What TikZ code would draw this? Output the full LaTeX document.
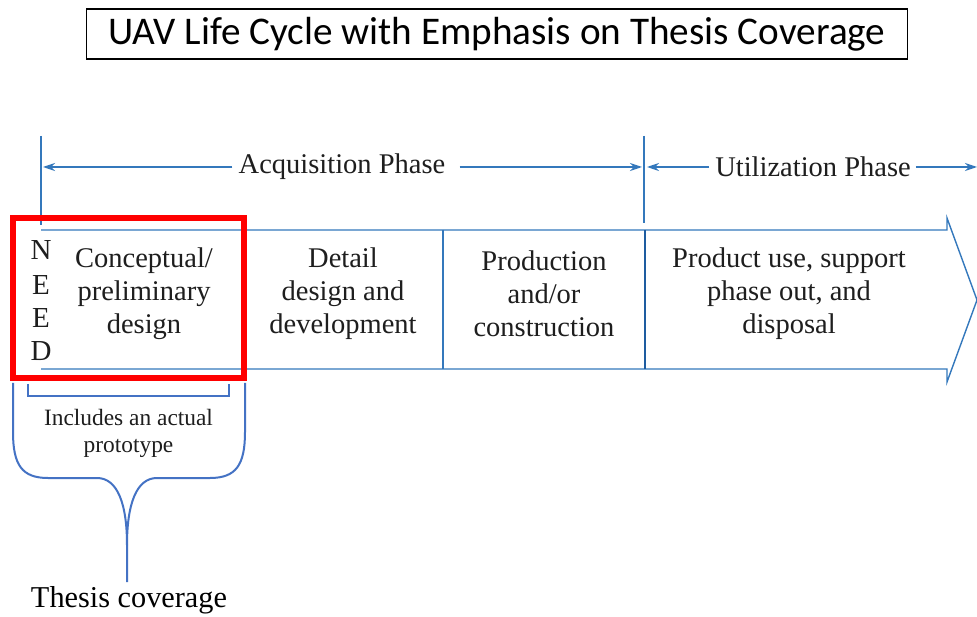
\documentclass[tikz,border=0pt]{standalone}
\usepackage{fontspec}
\setmainfont{Liberation Serif}
\newfontfamily\titlefont{Carlito}
\usetikzlibrary{arrows.meta}
\definecolor{lineblue}{RGB}{52,120,188}
\definecolor{darkblue}{RGB}{30,92,160}
\definecolor{braceblue}{RGB}{68,114,196}
\definecolor{txt}{RGB}{30,30,30}
\definecolor{redbox}{RGB}{255,0,0}
\tikzset{
  blueline/.style={draw=lineblue,line width=1.4pt},
  phasearrow/.style={blueline,-{Stealth[length=12pt,width=8pt]}},
  boxtext/.style={text=txt,align=center,font=\fontsize{28.5}{33}\selectfont,inner sep=0pt},
  needletter/.style={text=txt,font=\fontsize{29}{33}\selectfont,inner sep=0pt},
  phasetext/.style={text=txt,font=\fontsize{28.5}{33}\selectfont,inner sep=0pt},
  bracestyle/.style={draw=braceblue,line width=2pt},
}
\begin{document}
\begin{tikzpicture}[x=1pt,y=-1pt]
\useasboundingbox (0,0) rectangle (977,617);
\fill[white] (0,0) rectangle (977,617);
% title
\node[draw=black,line width=1.3pt,minimum width=821pt,minimum height=50pt,inner sep=0pt,
  font=\titlefont\fontsize{39.2}{44}\selectfont] (title) at (497,34) {UAV Life Cycle with Emphasis on Thesis Coverage};
% phase markers
\coordinate (vl1t) at (41,136); \coordinate (vl1b) at (41,225);
\coordinate (vl2t) at (644,136); \coordinate (vl2b) at (644,223);
\draw[blueline] (vl1t) -- (vl1b);
\draw[blueline] (vl2t) -- (vl2b);
\node[phasetext] (acq) at (342,167) {Acquisition Phase};
\node[phasetext] (util) at (813,167) {Utilization Phase};
\coordinate (a1) at (43,167); \coordinate (a2) at (642,167);
\coordinate (u1) at (647,167); \coordinate (u2) at (977,167);
\draw[phasearrow] ([xshift=-6pt]acq.west) -- (a1);
\draw[phasearrow] ([xshift=14pt]acq.east) -- (a2);
\draw[phasearrow] ([xshift=-6pt]util.west) -- (u1);
\draw[phasearrow] ([xshift=5pt]util.east) -- (u2);
% big arrow
\begin{scope}
\clip (0,0) rectangle (977,617);
\draw[blueline,line join=miter] (41,230) -- (947,230) -- (947,218) -- (977,300) -- (947,382) -- (947,369) -- (41,369);
\end{scope}
\draw[draw=lineblue,line width=1.2pt] (443,230) -- (443,369);
\draw[draw=darkblue,line width=2.6pt] (645,230) -- (645,369);
% texts
\node[needletter] (n1) at (41,250) {N};
\node[needletter] (n2) at (41,285) {E};
\node[needletter] (n3) at (41,318) {E};
\node[needletter] (n4) at (41,351) {D};
\node[boxtext] (concept) at (144,294) {Conceptual/\\preliminary\\design};
\node[boxtext] (detail) at (343,294) {Detail\\design and\\development};
\node[boxtext] (prod) at (544,294) {Production\\and/or\\construction};
\node[boxtext] (use) at (789,294) {Product use, support\\phase out, and\\disposal};
% red highlight
\draw[draw=redbox,line width=6pt] (13,218) rectangle (244,378);
% small bracket
\draw[draw=braceblue,line width=1.2pt] (28,384) -- (28,396) -- (229,396) -- (229,384);
\node[text=txt,align=center,font=\fontsize{23.4}{27}\selectfont,inner sep=0pt] (proto) at (128.5,433.5) {Includes an actual\\prototype};
% curly brace
\coordinate (bl) at (13,383); \coordinate (br) at (245,383); \coordinate (bc) at (127,545); \coordinate (btip) at (127,582);
\draw[bracestyle] (bl) -- (13,432) .. controls (13,465) and (22,478) .. (48,478) -- (97,478) .. controls (118,478) and (127,505) .. (bc) -- (btip);
\draw[bracestyle] (br) -- (245,432) .. controls (245,465) and (236,478) .. (210,478) -- (157,478) .. controls (136,478) and (127,505) .. (bc);
\node[text=black,font=\fontsize{30.3}{33}\selectfont,inner sep=0pt] (thesis) at (129,600) {Thesis coverage};
\end{tikzpicture}
\end{document}
